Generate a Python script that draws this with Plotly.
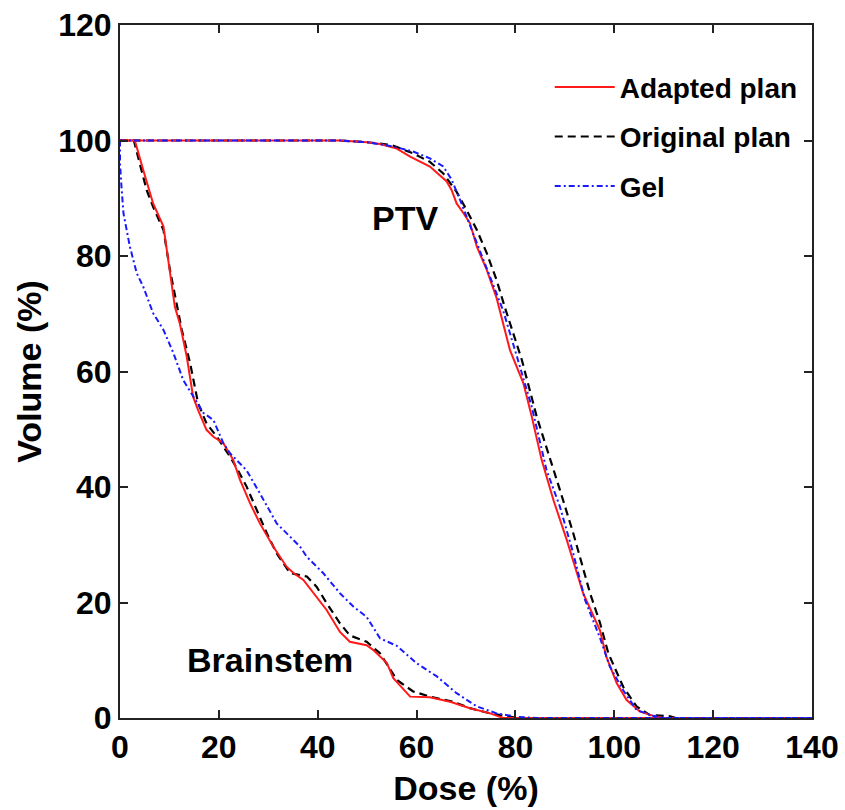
import plotly.graph_objects as go

# ---- data ----
ptv_adapted_dose = [0, 44.5, 50.0, 52.6, 56.0, 58.7, 62.7, 66.1, 67.1, 68.1, 69.5, 70.8, 72.2, 74.2, 76.2, 78.9, 81.6, 83.3, 85.3, 87.7, 90.4, 93.7, 97.1, 98.4, 100.5, 102.5, 105.2, 108.6, 110.0, 140]
ptv_adapted_vol = [100, 100, 99.7, 99.4, 98.6, 97.2, 95.5, 92.9, 91.4, 89.1, 87.4, 85.7, 81.6, 77.6, 72.7, 63.7, 58.0, 52.2, 44.7, 37.7, 30.8, 21.6, 15.2, 10.6, 6.0, 3.1, 1.1, 0.2, 0, 0]

ptv_original_dose = [0, 44.5, 50.0, 55.0, 59.2, 62.7, 65.4, 68.1, 70.1, 72.2, 74.2, 76.2, 77.9, 81.3, 84.3, 86.7, 89.0, 91.7, 95.1, 97.1, 98.8, 101.8, 104.5, 107.2, 111.3, 112.5, 140]
ptv_original_vol = [100, 100, 99.7, 99.2, 97.8, 96.3, 94.3, 91.1, 88.0, 84.5, 80.5, 75.8, 71.0, 62.0, 52.2, 45.8, 39.5, 32.0, 21.6, 16.5, 11.2, 5.4, 2.0, 0.5, 0.3, 0, 0]

ptv_gel_dose = [0, 44.5, 50.0, 55.0, 59.3, 62.7, 65.4, 67.1, 68.8, 70.1, 72.2, 74.9, 77.5, 80.3, 83.3, 86.3, 89.0, 91.7, 94.1, 97.1, 99.1, 101.8, 104.5, 107.8, 110.0, 140]
ptv_gel_vol = [100, 100, 99.7, 99.0, 98.1, 96.9, 95.5, 93.2, 89.7, 86.8, 82.2, 76.4, 70.6, 62.6, 53.9, 42.9, 36.6, 28.5, 20.4, 13.9, 8.9, 4.8, 1.4, 0.4, 0, 0]

bs_adapted_dose = [0, 3.0, 4.7, 6.7, 8.8, 9.8, 11.1, 12.1, 13.5, 14.8, 15.8, 17.5, 18.9, 20.9, 22.9, 24.3, 26.3, 28.3, 31.0, 33.7, 35.1, 37.1, 39.1, 41.8, 44.5, 46.5, 49.9, 51.2, 54.0, 55.3, 58.7, 62.7, 66.8, 70.8, 74.9, 77.5, 140]
bs_adapted_vol = [100, 100, 94.9, 89.1, 85.1, 78.7, 71.2, 68.3, 62.6, 55.6, 53.3, 49.9, 48.7, 47.6, 44.7, 41.2, 37.2, 33.7, 29.7, 26.2, 25.1, 23.9, 21.6, 18.7, 14.9, 13.2, 12.6, 11.8, 9.5, 6.9, 3.7, 3.6, 2.8, 1.7, 0.8, 0, 0]

bs_original_dose = [0, 2.8, 4.0, 5.4, 6.7, 8.8, 10.1, 11.5, 12.5, 14.2, 15.8, 17.5, 19.6, 22.3, 23.8, 25.6, 27.7, 29.7, 31.7, 34.4, 37.8, 39.8, 41.8, 44.5, 46.5, 49.9, 52.6, 56.0, 59.3, 62.7, 67.4, 70.8, 74.9, 78.9, 80.5, 140]
bs_original_vol = [100, 100, 96.0, 91.4, 88.5, 84.5, 77.6, 71.8, 67.2, 61.4, 54.5, 51.0, 48.7, 45.2, 43.0, 40.1, 36.0, 32.0, 28.5, 25.1, 24.5, 22.7, 19.9, 16.4, 14.3, 13.2, 11.2, 6.6, 4.6, 3.7, 2.8, 1.7, 0.8, 0.2, 0, 0]

bs_gel_dose = [0, 0, 0.3, 0.7, 2.0, 3.4, 4.7, 6.7, 8.8, 10.8, 12.8, 14.8, 16.9, 18.9, 20.9, 22.3, 25.6, 28.3, 31.7, 34.4, 36.4, 37.8, 41.1, 44.5, 47.2, 49.9, 52.6, 56.0, 60.0, 64.1, 68.1, 72.2, 76.2, 80.3, 84.4, 140]
bs_gel_vol = [100, 96, 92, 87.4, 81.6, 77.0, 74.7, 70.1, 67.2, 63.2, 58.5, 55.6, 52.8, 51.6, 47.6, 45.8, 42.9, 38.9, 33.7, 31.4, 29.7, 27.9, 25.1, 21.6, 19.3, 17.5, 13.8, 12.5, 9.5, 7.2, 4.3, 2.0, 0.8, 0.2, 0, 0]

series_names = ["Adapted plan", "Original plan", "Gel"]
x_ticks = [0, 20, 40, 60, 80, 100, 120, 140]
y_ticks = [0, 20, 40, 60, 80, 100, 120]

FONT = "Liberation Sans"

fig = go.Figure()

# drawing order: original (below), adapted, gel (top)
fig.add_trace(go.Scatter(
    x=ptv_original_dose + [None] + bs_original_dose,
    y=ptv_original_vol + [None] + bs_original_vol,
    mode="lines", name=series_names[1], legendrank=2, legendgroup="orig",
    line=dict(color="black", width=2.2, dash="8px,5px"),
))
fig.add_trace(go.Scatter(
    x=ptv_adapted_dose + [None] + bs_adapted_dose,
    y=ptv_adapted_vol + [None] + bs_adapted_vol,
    mode="lines", name=series_names[0], legendrank=1, legendgroup="adapt",
    line=dict(color="#ff1a1a", width=2),
))
fig.add_trace(go.Scatter(
    x=ptv_gel_dose + [None] + bs_gel_dose,
    y=ptv_gel_vol + [None] + bs_gel_vol,
    mode="lines", name=series_names[2], legendrank=3, legendgroup="gel",
    line=dict(color="#1a1aff", width=2, dash="6px,3px,2px,3px"),
))

axis_common = dict(
    showline=True, linecolor="#222", linewidth=2, mirror="allticks",
    ticks="inside", ticklen=8, tickwidth=2, tickcolor="#222",
    showgrid=False, zeroline=False, automargin=False,
    tickfont=dict(family=FONT, size=32, color="black", weight="bold"),
)

fig.update_layout(
    width=845, height=810,
    margin=dict(l=120, r=33, t=25, b=92),
    paper_bgcolor="white", plot_bgcolor="white",
    xaxis=dict(range=[0, 140], tickvals=x_ticks, **axis_common,
               title=dict(text="Dose (%)", standoff=12,
                          font=dict(family=FONT, size=34, color="black", weight="bold"))),
    yaxis=dict(range=[0, 120], tickvals=y_ticks, **axis_common,
               title=dict(text="Volume (%)", standoff=6,
                          font=dict(family=FONT, size=34, color="black", weight="bold"))),
    legend=dict(x=0.621, y=0.946, xanchor="left", yanchor="top",
                bgcolor="rgba(0,0,0,0)", borderwidth=0, traceorder="grouped",
                font=dict(family=FONT, size=28, color="black", weight="bold"),
                tracegroupgap=10, itemwidth=60),
    showlegend=True,
)

fig.add_annotation(x=57.7, y=86.6, text="PTV", showarrow=False,
                   font=dict(family=FONT, size=34, color="black", weight="bold"))
fig.add_annotation(x=30.3, y=10.0, text="Brainstem", showarrow=False,
                   font=dict(family=FONT, size=34, color="black", weight="bold"))

fig.write_html("out.html")
